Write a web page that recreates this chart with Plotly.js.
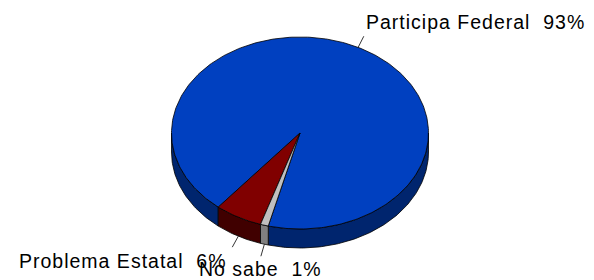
<!DOCTYPE html>
<html><head><meta charset="utf-8">
<script src="https://cdn.plot.ly/plotly-3.0.1.min.js"></script>
<style>html,body{margin:0;padding:0;background:#fff}#chart{width:594px;height:280px}
.annotation-text{letter-spacing:1px}</style>
</head><body><div id="chart"></div>
<script>
// ---- data ----
const categories = ["Participa Federal", "Problema Estatal", "No sabe"];
const values = [93, 6, 1];
const percentText = ["93%", "6%", "1%"];

// ---- styling / geometry (not data) ----
const topColors = ["#0040C0", "#800000", "#C0C0C0"];
const sideColors = ["#00256E", "#400000", "#808080"];
const W = 594, H = 280;
const cx = 300, cy = 133, rx = 128.5, ry = 96, depth = 19;
const startAngle = 194.3; // degrees clockwise from 12 o'clock; slices run counterclockwise
const FONT = {family: "Liberation Sans, Arial, sans-serif", size: 19.5, color: "#000"};

const rad = d => d * Math.PI / 180;
const px = (a, dy) => [cx + rx * Math.sin(rad(a)), cy - ry * Math.cos(rad(a)) + (dy || 0)];
function arc(a0, a1, dy) {
  const n = Math.max(2, Math.ceil(Math.abs(a0 - a1) / 1));
  const pts = [];
  for (let i = 0; i <= n; i++) pts.push(px(a0 + (a1 - a0) * i / n, dy));
  return pts;
}
function poly(pts, fill, name) {
  return {type: "scatter", mode: "lines", x: pts.map(p => p[0]), y: pts.map(p => p[1]),
    fill: "toself", fillcolor: fill, line: {color: "#000", width: 0.8},
    hoverinfo: "skip", showlegend: false, name: name};
}

const total = values.reduce((s, v) => s + v, 0);
const slices = [];
let cum = 0;
values.forEach((v, i) => {
  const a0 = startAngle - cum / total * 360;
  cum += v;
  const a1 = startAngle - cum / total * 360;
  slices.push({i, a0, a1, mid: (a0 + a1) / 2});
});

const traces = [];
slices.forEach(s => {
  for (let k = -2; k <= 1; k++) {
    const lo = Math.max(s.a1, 90 + 360 * k), hi = Math.min(s.a0, 270 + 360 * k);
    if (hi > lo) {
      const pts = arc(lo, hi, 0).concat(arc(hi, lo, depth));
      pts.push(pts[0]);
      traces.push(poly(pts, sideColors[s.i], categories[s.i] + " side"));
    }
  }
});
slices.forEach(s => {
  const pts = [[cx, cy]].concat(arc(s.a0, s.a1, 0));
  pts.push([cx, cy]);
  traces.push(poly(pts, topColors[s.i], categories[s.i]));
});

const annotations = [];
slices.forEach(s => {
  const sn = Math.sin(rad(s.mid)), cs = Math.cos(rad(s.mid));
  const front = cs < 0;
  const p0 = px(s.mid, front ? depth : 0);
  const len = 12.5;
  const p1 = [p0[0] + sn * len, p0[1] - cs * len];
  traces.push({type: "scatter", mode: "lines", x: [p0[0], p1[0]], y: [p0[1], p1[1]],
    line: {color: "#000", width: 0.8}, hoverinfo: "skip", showlegend: false});
  let xanchor = "center", xx = p1[0];
  if (sn > 0.3) { xanchor = "left"; xx = p1[0]; }
  else if (sn < -0.4) { xanchor = "right"; xx = p1[0] - 3; }
  let yy = p1[1] + (cs > 0 ? -14 : 14);
  yy = Math.min(yy, H - 11.5);
  annotations.push({x: xx, y: yy, xref: "x", yref: "y", xanchor, yanchor: "middle",
    showarrow: false, text: categories[s.i] + "  " + percentText[s.i], font: FONT});
});

const layout = {
  width: W, height: H, margin: {l: 0, r: 0, t: 0, b: 0},
  paper_bgcolor: "#fff", plot_bgcolor: "#fff", showlegend: false,
  xaxis: {range: [0, W], visible: false, fixedrange: true},
  yaxis: {range: [H, 0], visible: false, fixedrange: true},
  annotations
};
Plotly.newPlot("chart", traces, layout, {staticPlot: true, displayModeBar: false});
</script></body></html>
